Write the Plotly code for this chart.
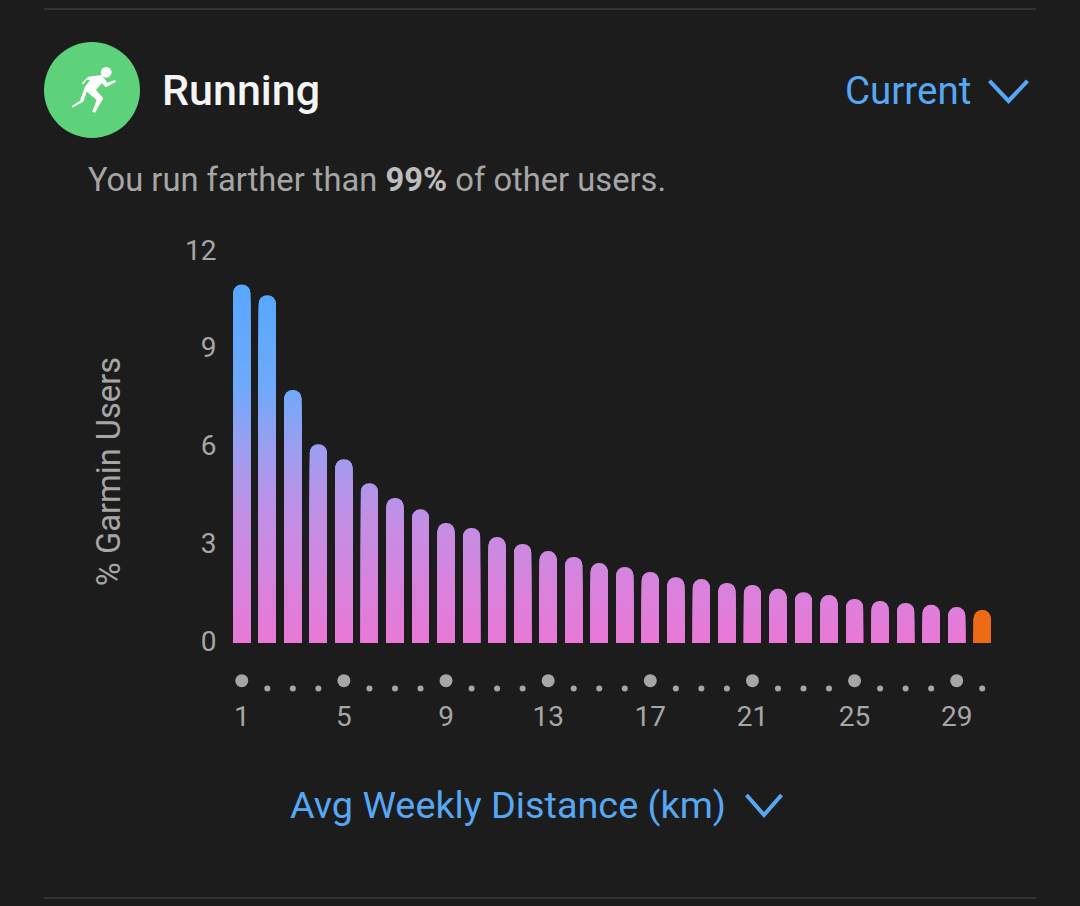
#!/usr/bin/env python3
import plotly.graph_objects as go

WIDTH = 1080
HEIGHT = 906

# Values
distance_bins = list(range(1, 31))
pct_users = [11.0, 10.67, 7.76, 6.1, 5.64, 4.9, 4.45, 4.1, 3.68, 3.53,
             3.25, 3.04, 2.82, 2.64, 2.45, 2.33, 2.18, 2.02, 1.96, 1.84,
             1.78, 1.66, 1.56, 1.47, 1.35, 1.29, 1.23, 1.17, 1.1, 1.01]
x_ticks = [1, 5, 9, 13, 17, 21, 25, 29]
y_ticks = [0, 3, 6, 9, 12]

BG = "#1c1c1c"
BLUE = "#56a8f5"
GREY = "#a6a6a6"
ORANGE = "#ec6b14"
# value -> colour of the vertical gradient shared by all bars
GRADIENT = [(0, (234, 120, 214)), (4, (192, 144, 229)), (6, (156, 158, 240)),
            (7.8, (112, 169, 251)), (11, (86, 168, 255))]
BAND = 0.1


def px_x(x):
    return x / WIDTH


def px_y(y):
    return 1 - y / HEIGHT


def svg_path(points, close=True):
    d = "M" + " L".join(f"{px_x(x):.5f},{px_y(y):.5f}" for x, y in points)
    return d + (" Z" if close else "")


def gradient_colour(v):
    for (v0, c0), (v1, c1) in zip(GRADIENT, GRADIENT[1:]):
        if v <= v1:
            t = (v - v0) / (v1 - v0)
            r, g, b = [round(a + (b - a) * t) for a, b in zip(c0, c1)]
            return f"rgb({r},{g},{b})"
    r, g, b = GRADIENT[-1][1]
    return f"rgb({r},{g},{b})"


fig = go.Figure()

# plotly bars have no gradient fill: overlay bars from the tallest band down,
# each one cut at its band top, so only the real bar top shows a round end
n_bands = int(max(pct_users) / BAND) + 1
for i in reversed(range(n_bands)):
    low = i * BAND
    heights = [min(v, low + BAND) if v > low else None for v in pct_users]
    colour = gradient_colour(low + BAND / 2)
    colours = [colour] * (len(pct_users) - 1) + [ORANGE]
    fig.add_trace(go.Bar(x=distance_bins, y=heights, marker_color=colours,
                         marker_line_width=0, showlegend=False, hoverinfo="skip"))

# dot row under the bars, big at the labelled bins
big_bins = [b for b in distance_bins if b in x_ticks]
small_bins = [b for b in distance_bins if b not in x_ticks]
fig.add_trace(go.Scatter(x=big_bins, y=[-1.157] * len(big_bins), mode="markers",
                         marker=dict(color=GREY, size=13), cliponaxis=False,
                         showlegend=False, hoverinfo="skip"))
fig.add_trace(go.Scatter(x=small_bins, y=[-1.40] * len(small_bins), mode="markers",
                         marker=dict(color=GREY, size=6), cliponaxis=False,
                         showlegend=False, hoverinfo="skip"))

runner = [(81.7, 83.3), (88.3, 76.7), (101.7, 75), (107.3, 82.7), (115, 80), (116, 81.7),
          (106, 87.3), (101.7, 83.3), (96, 90), (103.3, 98.3), (95, 112.7), (92.3, 111.7),
          (96.7, 100), (86.7, 91.7), (83.3, 101.7), (72.3, 107.7), (71.7, 106), (80, 100.7),
          (85, 86.7), (90, 80), (86.7, 80), (83.3, 84.3)]

shapes = [
    dict(type="line", x0=px_x(44), x1=px_x(1036), y0=px_y(9), y1=px_y(9),
         line=dict(color="#3a3a3a", width=1.5)),
    dict(type="line", x0=px_x(44), x1=px_x(1036), y0=px_y(898), y1=px_y(898),
         line=dict(color="#3a3a3a", width=1.5)),
    dict(type="circle", x0=px_x(44), x1=px_x(140), y0=px_y(42), y1=px_y(138),
         fillcolor="#5dd27a", line_width=0),
    dict(type="circle", x0=px_x(100.8), x1=px_x(111.6), y0=px_y(66.9), y1=px_y(77.7),
         fillcolor="white", line_width=0),
    dict(type="path", path=svg_path(runner), fillcolor="white", line_width=0),
    dict(type="path", path=svg_path([(989.5, 81), (1008.5, 101), (1027.5, 81)], close=False),
         line=dict(color=BLUE, width=4)),
    dict(type="path", path=svg_path([(746.5, 795), (764, 815), (781.5, 795)], close=False),
         line=dict(color=BLUE, width=4)),
]
for s in shapes:
    s["xref"] = "paper"
    s["yref"] = "paper"


def label(text, x, y, size, colour, anchor="left", weight=None):
    return dict(text=text, x=px_x(x), y=px_y(y), xref="paper", yref="paper",
                xanchor=anchor, yanchor="middle", showarrow=False,
                font=dict(family="Roboto", size=size, color=colour, weight=weight))


annotations = [
    label("Running", 160, 90, 43, "#f4f4f4", weight=500),
    label("Current", 843, 91, 38.5, BLUE),
    label("You run farther than <b style='color:#bdbdbd'>99%</b> of other users.", 86, 180, 32.7, GREY),
    label("Avg Weekly Distance (km)", 288, 805, 37.8, BLUE),
]

fig.update_layout(
    width=WIDTH,
    height=HEIGHT,
    barmode="overlay",
    bargap=0.335,
    barcornerradius=8.5,
    paper_bgcolor=BG,
    plot_bgcolor=BG,
    margin=dict(l=0, r=0, t=0, b=0, pad=0),
    font=dict(family="Roboto", color=GREY),
    shapes=shapes,
    annotations=annotations,
    xaxis=dict(domain=[px_x(229), px_x(995)], range=[0.5, 30.5], tickmode="array",
               tickvals=x_ticks, ticktext=[str(t) for t in x_ticks], ticks="",
               ticklabelstandoff=6, tickfont=dict(size=28, color=GREY),
               showgrid=False, zeroline=False, showline=False, automargin=False),
    yaxis=dict(domain=[px_y(691.16), px_y(251.8)], range=[-1.478, 12], tickmode="array",
               tickvals=y_ticks, ticks="outside", ticklen=6, tickcolor="rgba(0,0,0,0)",
               tickfont=dict(size=28, color=GREY), ticklabelshift=-2,
               showgrid=False, zeroline=False, showline=False, automargin=False,
               title=dict(text="% Garmin Users", font=dict(size=32.7, color=GREY), standoff=54)),
)

fig.write_html("out.html", config={"displayModeBar": False},
               post_script="document.body.style.margin='0';document.body.style.overflow='hidden';")
